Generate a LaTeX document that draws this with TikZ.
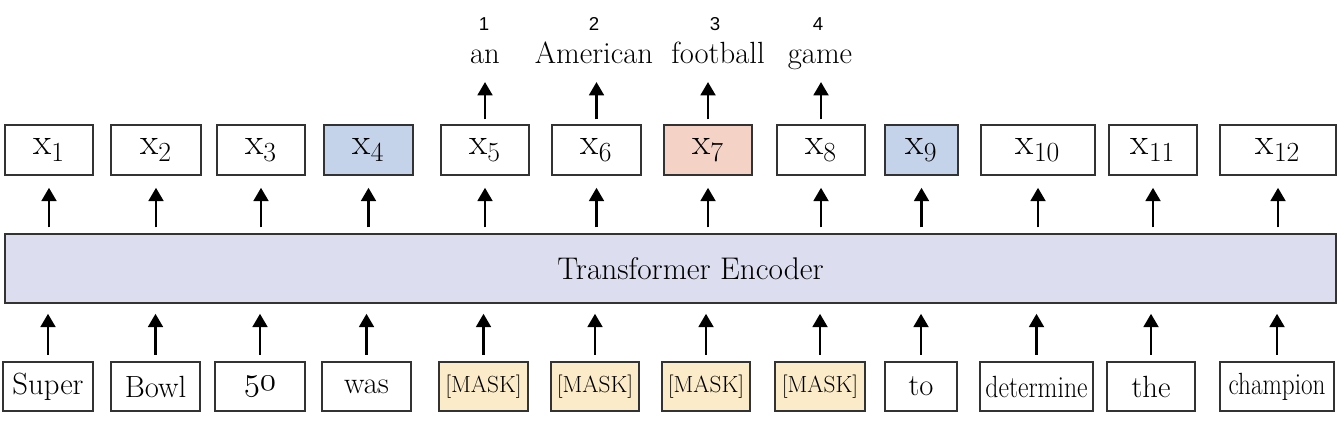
\documentclass[tikz,border=0pt]{standalone}
\usepackage{fontspec}
\usepackage{graphicx}
\newfontfamily\numfont{Liberation Sans}
\usetikzlibrary{arrows.meta}
\definecolor{bordc}{HTML}{333333}
\definecolor{blueF}{HTML}{C5D3EA}
\definecolor{pinkF}{HTML}{F4D2C6}
\definecolor{maskF}{HTML}{FBEBC8}
\definecolor{encF}{HTML}{DCDDEF}
\newcommand{\bx}[7]{\node[#6, minimum width={(#3-#2)*0.75pt}, minimum height={(#5-#4)*0.75pt}] (#1) at ({(#2+#3)/2},{(#4+#5)/2}) {#7};}
\newcommand{\xl}[1]{$\mathrm{x}_{#1}$}
\newcommand{\osnum}[1]{{\fontencoding{OML}\fontfamily{cmm}\fontseries{m}\fontshape{it}\selectfont #1}}
\begin{document}
\begin{tikzpicture}[x=0.75pt,y=-0.75pt,
  box/.style={draw=bordc, line width=1.1pt, inner sep=0pt, fill=white},
  xbox/.style={box, font=\fontsize{28}{32}\selectfont},
  wbox/.style={box, font=\fontsize{23}{26}\selectfont},
  mbox/.style={box, fill=maskF, font=\fontsize{17.5}{20}\selectfont},
  arr/.style={-{Triangle[length=10pt,width=11pt]}, line width=2.1pt, black},
  outw/.style={anchor=base, font=\fontsize{23}{26}\selectfont},
  numl/.style={anchor=base, font=\numfont\fontsize{14}{16}\selectfont}]
\useasboundingbox (0,0) rectangle (1344,422);
% top boxes
\bx{x1}{5}{93}{125}{175}{xbox}{\xl{1}}
\bx{x2}{111}{201}{125}{175}{xbox}{\xl{2}}
\bx{x3}{217}{305}{125}{175}{xbox}{\xl{3}}
\bx{x4}{324}{413}{125}{175}{xbox,fill=blueF}{\xl{4}}
\bx{x5}{441}{529}{125}{175}{xbox}{\xl{5}}
\bx{x6}{552}{641}{125}{175}{xbox}{\xl{6}}
\bx{x7}{664}{752}{125}{175}{xbox,fill=pinkF}{\xl{7}}
\bx{x8}{777}{865}{125}{175}{xbox}{\xl{8}}
\bx{x9}{885}{958}{125}{175}{xbox,fill=blueF}{\xl{9}}
\bx{x10}{981}{1095}{125}{175}{xbox}{\xl{10}}
\bx{x11}{1109}{1197}{125}{175}{xbox}{\xl{11}}
\bx{x12}{1220}{1336}{125}{175}{xbox}{\xl{12}}
% encoder
\node[box, fill=encF, minimum width={1331*0.75pt}, minimum height={69*0.75pt},
  label={[xshift=15pt, font=\fontsize{23.5}{26}\selectfont]center:Transformer Encoder}] (enc) at ({(5+1336)/2},{(234+303)/2}) {};
% bottom boxes
\bx{b1}{3}{93}{362}{411}{wbox}{Super}
\bx{b2}{111}{200}{362}{411}{wbox}{Bowl}
\bx{b3}{215}{305}{362}{411}{wbox}{\osnum{50}}
\bx{b4}{322}{411}{362}{411}{wbox}{was}
\bx{b5}{439}{528}{362}{411}{mbox}{[MASK]}
\bx{b6}{551}{639}{362}{411}{mbox}{[MASK]}
\bx{b7}{662}{750}{362}{411}{mbox}{[MASK]}
\bx{b8}{775}{865}{362}{411}{mbox}{[MASK]}
\bx{b9}{885}{957}{362}{411}{wbox}{to}
\bx{b10}{980}{1093}{362}{411}{wbox}{\scalebox{0.84}[1]{determine}}
\bx{b11}{1107}{1195}{362}{411}{wbox}{the}
\bx{b12}{1220}{1334}{362}{411}{wbox}{\scalebox{0.82}[1]{champion}}
% arrows
\foreach \i in {1,...,12}{
  \draw[arr, shorten <=5pt, shorten >=7.5pt] (b\i.north) -- (b\i.north |- enc.south);
  \draw[arr, shorten <=4.5pt, shorten >=9pt] (enc.north -| x\i.south) -- (x\i.south);
}
% outputs
\coordinate (tipline) at (0,82);
\node[outw] (w5) at (485,63) {an};
\node[outw] (w6) at (594,63) {American};
\node[outw] (w7) at (718,63) {football};
\node[outw] (w8) at (820,63) {game};
\node[numl] (n5) at (484,30) {1};
\node[numl] (n6) at (594,30) {2};
\node[numl] (n7) at (715,30) {3};
\node[numl] (n8) at (818,30) {4};
\foreach \i in {5,...,8}{
  \draw[arr, shorten <=3.75pt] (x\i.north) -- (x\i.north |- tipline);
}
\end{tikzpicture}
\end{document}
